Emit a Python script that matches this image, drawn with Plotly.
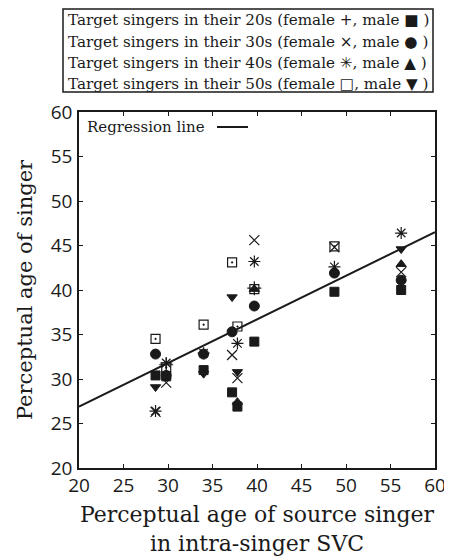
import plotly.graph_objects as go

# Perceptual age of source singer (one column per source singer)
SOURCE_AGES = [28.6, 29.8, 34.0, 37.2, 37.8, 39.7, 48.7, 56.2]

# Perceptual age of converted singer, per target-singer group (None = not visible)
FEMALE_20S = [None, 31.6, None, None, None, 40.2, None, None]
MALE_20S = [30.4, 30.3, 31.0, 28.5, 26.9, 34.2, 39.8, 40.0]
FEMALE_30S = [26.3, 29.6, None, 32.7, 30.1, 45.6, 44.8, 42.0]
MALE_30S = [32.8, 30.4, 32.8, 35.3, None, 38.2, 41.9, 41.1]
FEMALE_40S = [26.4, 31.8, 32.9, None, 34.0, 43.2, 42.6, 46.4]
MALE_40S = [None, None, None, None, 27.4, 40.1, None, 42.9]
FEMALE_50S = [34.5, 31.3, 36.1, 43.1, 35.9, 40.1, 44.9, None]
MALE_50S = [29.1, None, 30.6, 39.2, 30.8, None, None, 44.6]

# Regression line parameters
REG_SLOPE = 0.49
REG_INTERCEPT = 17.1
REG_X = [20, 60]

AXIS_TICKS = [20, 25, 30, 35, 40, 45, 50, 55, 60]

LEGEND_DECADES = ["20s", "30s", "40s", "50s"]
LEGEND_FEMALE_GLYPHS = ["+", "×", "✳", "□"]
LEGEND_MALE_GLYPHS = ["■", "●", "▲", "▼"]

SERIF = "DejaVu Serif"
SANS = "Open Sans"
GLYPH_FONT = "DejaVu Sans"
INK = "#1a1a1a"

# page has an 8px body margin; figure sized so the page layout matches
PAGE_OFF = 8
W, H = 444, 548
L, R, T, B = 71, 17, 104, 88
PW, PH = W - L - R, H - T - B


def px_x(page_px):
    return (page_px - PAGE_OFF - L) / PW


def px_y(page_py):
    return (H - B - (page_py - PAGE_OFF)) / PH


def glyph(g):
    return f"<span style='font-family:{GLYPH_FONT};color:{INK}'>{g}</span>"


fig = go.Figure()

# regression line
fig.add_trace(go.Scatter(
    x=REG_X, y=[REG_SLOPE * v + REG_INTERCEPT for v in REG_X],
    mode="lines", line=dict(color=INK, width=2), showlegend=False, hoverinfo="skip"))

series = [
    (MALE_20S, "square", 9, 1),
    (MALE_30S, "circle", 10, 1),
    (MALE_40S, "triangle-up", 9, 1),
    (MALE_50S, "triangle-down", 9, 1),
    (FEMALE_50S, "square-open-dot", 9, 1.2),
    (FEMALE_20S, "cross-thin-open", 10, 1.2),
    (FEMALE_30S, "x-thin-open", 10, 1.2),
    (FEMALE_40S, "asterisk-open", 10, 1.2),
]
for ys, sym, size, lw in series:
    xs = [x for x, y in zip(SOURCE_AGES, ys) if y is not None]
    yv = [y for y in ys if y is not None]
    fig.add_trace(go.Scatter(
        x=xs, y=yv, mode="markers",
        marker=dict(symbol=sym, size=size, color=INK,
                    line=dict(color=INK, width=lw)),
        showlegend=False))

# top legend box
fig.add_shape(type="rect", xref="paper", yref="paper",
              x0=px_x(63), x1=px_x(433), y0=px_y(92), y1=px_y(9),
              line=dict(color=INK, width=1.5), fillcolor="white", layer="above")
for i, (dec, fg, mg) in enumerate(zip(LEGEND_DECADES, LEGEND_FEMALE_GLYPHS, LEGEND_MALE_GLYPHS)):
    text = f"Target singers in their {dec} (female {glyph(fg)}, male {glyph(mg)} )"
    fig.add_annotation(
        xref="paper", yref="paper", x=px_x(66), y=px_y(20.5 + 21.3 * i),
        xanchor="left", yanchor="middle", align="left", showarrow=False,
        text=text, font=dict(family=SERIF, size=15.2, color=INK))

# in-plot regression legend
fig.add_annotation(
    xref="paper", yref="paper", x=px_x(85), y=px_y(127),
    xanchor="left", yanchor="middle", showarrow=False,
    text="Regression line", font=dict(family=SERIF, size=15, color=INK))
fig.add_shape(type="line", xref="paper", yref="paper",
              x0=px_x(217), x1=px_x(248), y0=px_y(127), y1=px_y(127),
              line=dict(color=INK, width=2))

axis_common = dict(
    range=[20, 60], tickvals=AXIS_TICKS, ticks="inside", ticklen=4,
    tickcolor=INK, showline=True, linecolor=INK, linewidth=1.5, mirror="ticks",
    showgrid=False, zeroline=False, automargin=False,
    tickfont=dict(family=SANS, size=19, color=INK))

fig.update_xaxes(**axis_common, ticklabelstandoff=-1,
                 title=dict(text="Perceptual age of source singer<br>in intra-singer SVC",
                            font=dict(family=SERIF, size=22, color=INK), standoff=10))
fig.update_yaxes(**axis_common, ticklabelstandoff=1,
                 title=dict(text="Perceptual age of singer",
                            font=dict(family=SERIF, size=21, color=INK), standoff=12))

fig.update_layout(
    width=W, height=H,
    margin=dict(l=L, r=R, t=T, b=B),
    paper_bgcolor="white", plot_bgcolor="white",
)

fig.write_html("out.html")
